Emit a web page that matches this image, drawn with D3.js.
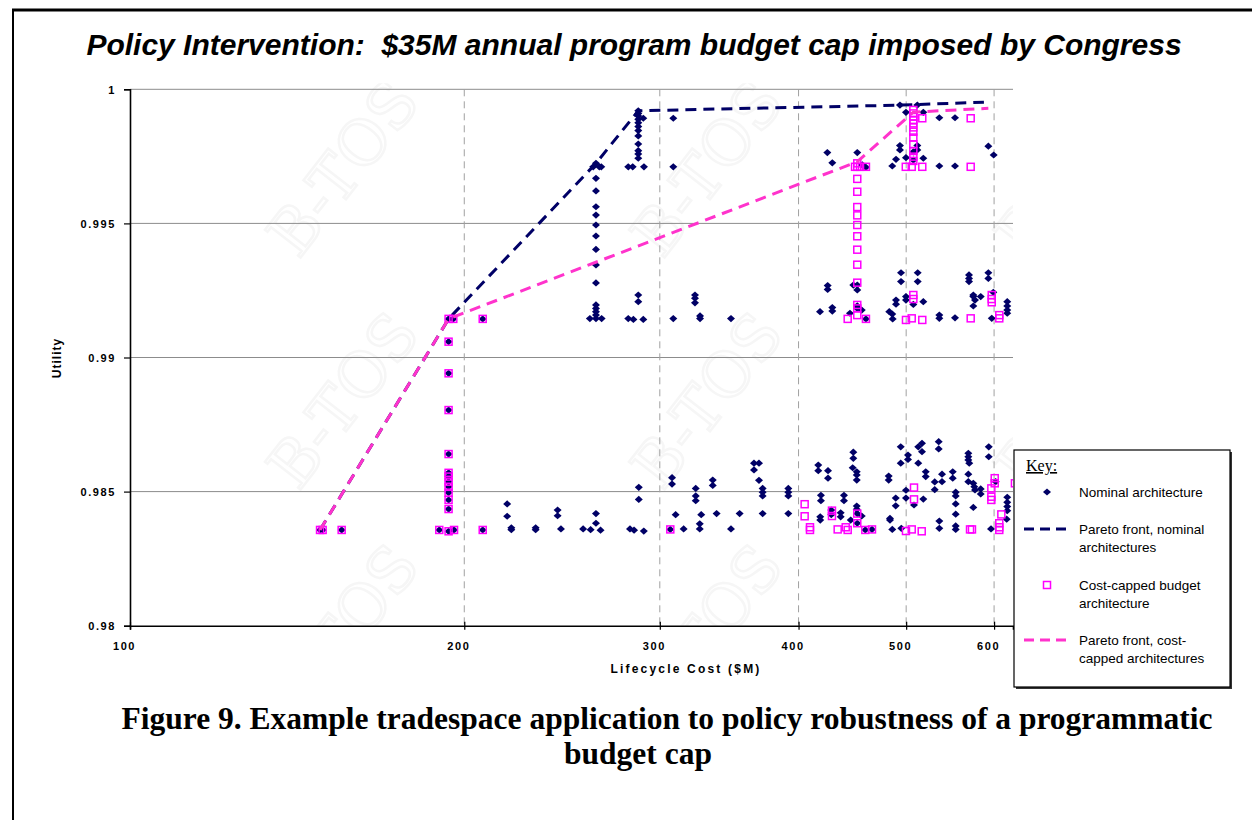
<!DOCTYPE html>
<html>
<head>
<meta charset="utf-8">
<script src="https://cdn.jsdelivr.net/npm/d3@7"></script>
<style>
  body { margin: 0; background: #fff; }
  svg { display: block; }
  text { font-family: Arial, "Liberation Sans", sans-serif; }
</style>
</head>
<body>
<svg id="chart" width="1252" height="820"></svg>
<script>
// ---- data: [lifecycle cost $M, utility] ----
var nominalArch = [
  [148.3,0.98357],[149.1,0.98357],[155.1,0.98357],[189.9,0.98357],[195.8,0.98357],[207.8,0.98357],
  [193.6,0.99144],[193.6,0.99059],[193.6,0.98941],[193.6,0.98804],[193.6,0.98640],[193.6,0.98570],
  [193.6,0.98556],[193.6,0.98537],[193.6,0.98518],[193.6,0.98496],[193.6,0.98469],[193.6,0.98435],
  [193.6,0.98352],[195.5,0.99144],[207.8,0.99144],
  [218.6,0.98454],[218.6,0.98408],[220.5,0.98365],[220.5,0.98358],[231.9,0.98365],[231.9,0.98358],
  [244.4,0.98361],[242.7,0.98431],[242.7,0.98410],[255.9,0.98361],[259.9,0.98358],[265.3,0.98356],
  [262.8,0.98418],[262.8,0.98382],[282.0,0.98361],[284.4,0.98356],[290.2,0.98353],[287.2,0.98516],
  [287.2,0.98471],[306.6,0.98359],[307.7,0.98552],[307.7,0.98528],[310.0,0.98414],[315.2,0.98361],
  [323.2,0.98512],[323.2,0.98484],[323.2,0.98466],[326.9,0.98414],[325.9,0.98380],[325.9,0.98361],
  [334.8,0.98543],[334.8,0.98523],[337.5,0.98418],[347.7,0.98361],[354.0,0.98418],[364.7,0.98606],
  [368.5,0.98606],[364.7,0.98581],[368.5,0.98542],[371.3,0.98512],[371.3,0.98498],[371.3,0.98484],
  [371.3,0.98418],[391.6,0.98512],[391.6,0.98498],[391.6,0.98484],[391.6,0.98418],
  [416.7,0.98599],[416.7,0.98578],[425.2,0.98578],[425.2,0.98550],[419.0,0.98486],[419.0,0.98466],
  [418.4,0.98406],[418.4,0.98394],[439.5,0.98486],[439.5,0.98466],[436.5,0.98421],[436.5,0.98406],
  [445.7,0.98394],[448.1,0.98647],[448.1,0.98624],[447.5,0.98589],[451.3,0.98574],[451.3,0.98562],
  [451.3,0.98543],[451.3,0.98446],[451.3,0.98434],[456.0,0.98409],[428.1,0.98431],[428.1,0.98414],
  [451.8,0.98418],[451.8,0.98382],[465.8,0.98359],[459.4,0.98357],[482.2,0.98558],[482.2,0.98543],
  [483.5,0.98400],[483.5,0.98394],[485.8,0.98359],[495.0,0.98363],[494.4,0.98667],[494.4,0.98606],
  [489.3,0.98476],[489.3,0.98447],[499.8,0.98505],[499.8,0.98476],[501.9,0.98636],[501.9,0.98620],
  [512.7,0.98667],[516.7,0.98680],[516.7,0.98649],[512.7,0.98606],[508.2,0.98450],[518.1,0.98472],
  [520.7,0.98574],[520.7,0.98556],[530.5,0.98536],[530.5,0.98507],[534.9,0.98686],[534.9,0.98659],
  [538.6,0.98565],[538.6,0.98537],[550.7,0.98574],[550.7,0.98550],[554.1,0.98498],[554.1,0.98484],
  [554.1,0.98454],[554.1,0.98416],[535.6,0.98390],[535.6,0.98363],[554.1,0.98372],[554.1,0.98359],
  [568.8,0.98643],[568.8,0.98630],[568.8,0.98618],[569.9,0.98606],[568.8,0.98565],[568.8,0.98537],
  [574.7,0.98531],[575.9,0.98518],[576.7,0.98506],[583.6,0.98510],[583.6,0.98491],[574.7,0.98441],
  [593.4,0.98667],[593.4,0.98630],[596.2,0.98361],[602.0,0.98537],[616.6,0.98479],[616.6,0.98460],
  [616.6,0.98444],[616.6,0.98429],[615.9,0.98397],
  [259.5,0.99145],[262.8,0.99145],[265.9,0.99145],[262.8,0.99196],[262.8,0.99183],[262.8,0.99171],
  [262.8,0.99158],[262.8,0.99724],[262.8,0.99668],[262.8,0.99621],[262.8,0.99562],[262.8,0.99531],
  [262.8,0.99494],[262.8,0.99453],[262.8,0.99403],[262.8,0.99345],[262.8,0.99278],
  [261.3,0.99711],[264.6,0.99711],[265.7,0.99711],[281.0,0.99145],[284.0,0.99142],[289.9,0.99142],
  [286.9,0.99233],[286.9,0.99208],[286.9,0.99920],[286.9,0.99910],[286.9,0.99900],[286.9,0.99888],
  [286.9,0.99875],[286.9,0.99861],[286.9,0.99846],[286.9,0.99826],[286.9,0.99796],[286.9,0.99771],
  [286.9,0.99759],[286.9,0.99743],[289.9,0.99892],[281.0,0.99711],[283.6,0.99711],[290.3,0.99711],
  [308.5,0.99892],[308.5,0.99711],[308.5,0.99145],[322.7,0.99233],[322.7,0.99221],[322.7,0.99204],
  [326.1,0.99155],[326.1,0.99145],[347.7,0.99145],
  [418.2,0.99171],[424.9,0.99268],[424.9,0.99254],[429.0,0.99186],[429.0,0.99173],[445.0,0.99165],
  [448.1,0.99270],[451.8,0.99270],[451.8,0.99252],[451.8,0.99193],[451.8,0.99183],[456.0,0.99177],
  [460.0,0.99144],[482.8,0.99171],[485.8,0.99162],[486.2,0.99144],[489.6,0.99214],[489.6,0.99199],
  [494.7,0.99316],[494.7,0.99283],[499.8,0.99227],[499.8,0.99214],[507.5,0.99198],[512.1,0.99316],
  [512.1,0.99283],[518.1,0.99208],[535.6,0.99158],[535.6,0.99146],[553.3,0.99148],[569.6,0.99308],
  [569.6,0.99295],[569.6,0.99283],[574.7,0.99233],[574.7,0.99227],[576.7,0.99214],[583.6,0.99227],
  [574.7,0.99192],[592.9,0.99316],[592.9,0.99295],[597.1,0.99146],[599.0,0.99243],[616.6,0.99208],
  [616.6,0.99192],[616.6,0.99177],[616.6,0.99165],
  [424.6,0.99764],[429.0,0.99726],[451.8,0.99764],[456.5,0.99718],[460.0,0.99709],[485.8,0.99714],
  [489.6,0.99739],[493.6,0.99790],[493.6,0.99774],[499.8,0.99745],[511.7,0.99790],[511.7,0.99774],
  [518.1,0.99743],[535.6,0.99714],[553.3,0.99714],[535.6,0.99894],[553.3,0.99894],[592.9,0.99788],
  [599.5,0.99755],[493.6,0.99941],[499.8,0.99914],[511.7,0.99941],[518.1,0.99914],[507.5,0.99767],
  [507.5,0.99736]
];

var cappedArch = [
  [148.3,0.98357],[149.1,0.98357],[155.1,0.98357],[189.9,0.98357],[193.6,0.98352],[195.8,0.98357],
  [207.8,0.98357],[193.6,0.99144],[193.6,0.99059],[193.6,0.98941],[193.6,0.98804],[193.6,0.98640],
  [193.6,0.98570],[193.6,0.98556],[193.6,0.98537],[193.6,0.98518],[193.6,0.98496],[193.6,0.98469],
  [193.6,0.98435],[195.5,0.99144],[207.8,0.99144],[306.6,0.98359],
  [405.1,0.98453],[405.1,0.98408],[409.6,0.98367],[409.6,0.98357],[428.7,0.98429],[428.7,0.98409],
  [433.8,0.98359],[441.1,0.98367],[442.9,0.98357],[451.8,0.98418],[451.8,0.98382],[459.4,0.98357],
  [465.8,0.98359],[508.2,0.98515],[508.2,0.98471],[499.8,0.98353],[505.8,0.98359],[516.4,0.98352],
  [570.8,0.98359],[573.1,0.98359],[600.8,0.98550],[600.8,0.98531],[596.6,0.98512],[596.6,0.98481],
  [596.6,0.98469],[609.1,0.98415],[606.5,0.98382],[606.5,0.98367],[606.5,0.98357],[626.5,0.98531],
  [442.9,0.99144],[460.0,0.99144],
  [451.8,0.99724],[451.8,0.99711],[451.8,0.99666],[451.8,0.99618],[451.8,0.99561],[451.8,0.99530],
  [451.8,0.99494],[451.8,0.99452],[451.8,0.99402],[451.8,0.99346],[451.8,0.99279],[451.8,0.99196],
  [451.8,0.99183],[451.8,0.99158],[449.7,0.99711],[454.4,0.99711],[460.0,0.99711],
  [507.5,0.99923],[507.5,0.99910],[507.5,0.99898],[507.5,0.99886],[507.5,0.99873],[507.5,0.99858],
  [507.5,0.99842],[507.5,0.99820],[507.5,0.99795],[507.5,0.99770],[507.5,0.99749],[507.5,0.99733],
  [499.6,0.99711],[505.8,0.99711],[517.0,0.99711],[517.0,0.99892],[571.6,0.99892],[571.6,0.99711],
  [507.5,0.99233],[507.5,0.99218],[499.8,0.99140],[505.8,0.99146],[517.0,0.99140],[571.6,0.99146],
  [597.1,0.99233],[597.1,0.99218],[597.1,0.99206],[606.5,0.99158],[606.5,0.99146]
];

var paretoNominal = [[148.3,0.98357],[193.6,0.99144],[262.8,0.99724],[286.9,0.99920],[493.6,0.99941],[587.5,0.99952]];
var paretoCapped  = [[148.3,0.98357],[193.6,0.99144],[451.8,0.99730],[507.5,0.99915],[592.9,0.99929]];

var xTicks = [100, 200, 300, 400, 500, 600];
var yTicks = [0.98, 0.985, 0.99, 0.995, 1];
var yTickLabels = ["0.98", "0.985", "0.99", "0.995", "1"];

var legendItems = [
  {kind: "diamond", lines: ["Nominal architecture"]},
  {kind: "navyline", lines: ["Pareto front, nominal", "architectures"]},
  {kind: "square", lines: ["Cost-capped budget", "architecture"]},
  {kind: "pinkline", lines: ["Pareto front, cost-", "capped architectures"]}
];

var navy = "#000066", magenta = "#ff00ff", pink = "#ff33cc";

// ---- layout ----
var plot = {left: 130, right: 1013, top: 89.3, bottom: 625.7};
var svg = d3.select("#chart");

var x = d3.scaleLog().domain([100, 624]).range([plot.left, plot.right]);
var y = d3.scaleLinear().domain([0.98, 1]).range([plot.bottom, plot.top]);

// frame of the figure (top and left edges visible)
svg.append("line").attr("x1", 12).attr("x2", 1252).attr("y1", 10).attr("y2", 10)
  .attr("stroke", "#000").attr("stroke-width", 3);
svg.append("line").attr("x1", 13).attr("x2", 13).attr("y1", 9).attr("y2", 820)
  .attr("stroke", "#000").attr("stroke-width", 2);

svg.append("text")
  .attr("x", 634).attr("y", 55)
  .attr("text-anchor", "middle")
  .style("white-space", "pre")
  .style("font-size", "30px").style("font-weight", "bold").style("font-style", "italic")
  .text("Policy Intervention:  $35M annual program budget cap imposed by Congress");

var defs = svg.append("defs");
defs.append("clipPath").attr("id", "plotclip")
  .append("rect")
  .attr("x", plot.left).attr("y", plot.top - 6)
  .attr("width", plot.right - plot.left).attr("height", plot.bottom - plot.top + 6);

// faint watermark
var gWm = svg.append("g").attr("clip-path", "url(#plotclip)");
[343, 707, 1071].forEach(function(cx) {
  [168, 400, 632].forEach(function(cy) {
    gWm.append("text")
      .attr("transform", "translate(" + cx + "," + cy + ") rotate(-52)")
      .attr("text-anchor", "middle").attr("dy", "0.35em")
      .style("font-size", "62px").style("font-family", "'DejaVu Serif', serif")
      .attr("fill", "none").attr("stroke", "#f6f6f6").attr("stroke-width", 2.5)
      .text("B-TOS");
  });
});

// gridlines
svg.append("g").selectAll("line").data(yTicks.slice(1)).enter().append("line")
  .attr("x1", plot.left).attr("x2", plot.right)
  .attr("y1", function(d) { return y(d); }).attr("y2", function(d) { return y(d); })
  .attr("stroke", "#8c8c8c").attr("stroke-width", 1);
svg.append("g").selectAll("line").data(xTicks.slice(1)).enter().append("line")
  .attr("x1", function(d) { return x(d); }).attr("x2", function(d) { return x(d); })
  .attr("y1", plot.top).attr("y2", plot.bottom)
  .attr("stroke", "#a0a0a0").attr("stroke-width", 1).attr("stroke-dasharray", "7,5");

var diamond = "M0,-3.6L4,0L0,3.6L-4,0Z";
var gData = svg.append("g").attr("clip-path", "url(#plotclip)");
var line = d3.line().x(function(d) { return x(d[0]); }).y(function(d) { return y(d[1]); });

gData.append("g").selectAll("path").data(nominalArch).enter().append("path")
  .attr("d", diamond).attr("fill", navy)
  .attr("transform", function(d) { return "translate(" + x(d[0]) + "," + y(d[1]) + ")"; });

gData.append("path").datum(paretoNominal)
  .attr("d", line).attr("fill", "none").attr("stroke", navy)
  .attr("stroke-width", 3).attr("stroke-dasharray", "11,7");

gData.append("g").selectAll("rect").data(cappedArch).enter().append("rect")
  .attr("x", function(d) { return x(d[0]) - 3.5; }).attr("y", function(d) { return y(d[1]) - 3.5; })
  .attr("width", 7).attr("height", 7)
  .attr("fill", "none").attr("stroke", magenta).attr("stroke-width", 1.5);

gData.append("path").datum(paretoCapped)
  .attr("d", line).attr("fill", "none").attr("stroke", pink)
  .attr("stroke-width", 3).attr("stroke-dasharray", "11,7");

// axes
var yAxis = svg.append("g").attr("transform", "translate(" + plot.left + ",0)")
  .call(d3.axisLeft(y).tickValues(yTicks).tickSize(6)
    .tickFormat(function(d, i) { return yTickLabels[i]; }));
var xAxis = svg.append("g").attr("transform", "translate(0," + plot.bottom + ")")
  .call(d3.axisBottom(x).tickValues(xTicks).tickSize(4).tickFormat(d3.format("d")));

[yAxis, xAxis].forEach(function(ax) {
  ax.select(".domain").attr("stroke", "#000").attr("stroke-width", 1.6);
  ax.selectAll(".tick line").attr("stroke", "#000").attr("stroke-width", 1.2);
  ax.selectAll("text").attr("fill", "#000")
    .style("font-size", "11px").style("font-weight", "bold")
    .style("letter-spacing", "1.6px").style("font-family", "Arial, sans-serif");
});
yAxis.selectAll(".tick text").attr("x", -14).attr("dy", "0.36em");
xAxis.selectAll(".tick line").attr("y1", -4).attr("y2", 4);
xAxis.selectAll(".tick text").attr("y", 17).attr("dx", -6);

svg.append("text")
  .attr("x", 686).attr("y", 673).attr("text-anchor", "middle")
  .style("font-size", "12px").style("font-weight", "bold").style("letter-spacing", "2.2px")
  .text("Lifecycle Cost ($M)");
svg.append("text")
  .attr("transform", "translate(61,358) rotate(-90)").attr("text-anchor", "middle")
  .style("font-size", "12px").style("font-weight", "bold").style("letter-spacing", "1px")
  .text("Utility");

// legend
var lg = svg.append("g").attr("transform", "translate(1014,450)");
lg.append("rect").attr("x", 2).attr("y", 2).attr("width", 216).attr("height", 237).attr("fill", "#333");
lg.append("rect").attr("width", 216).attr("height", 237)
  .attr("fill", "#fff").attr("stroke", "#000").attr("stroke-width", 1.2);
lg.append("text").attr("x", 12).attr("y", 21)
  .style("font-family", "'Liberation Serif', 'Times New Roman', serif").style("font-size", "16px")
  .style("text-decoration", "underline").text("Key:");

var rowY = [42, 79, 135, 190];
legendItems.forEach(function(item, i) {
  var g = lg.append("g").attr("transform", "translate(0," + rowY[i] + ")");
  if (item.kind === "diamond") {
    g.append("path").attr("d", diamond).attr("fill", navy).attr("transform", "translate(33,0)");
  } else if (item.kind === "square") {
    g.append("rect").attr("x", 29.5).attr("y", -3.5).attr("width", 7).attr("height", 7)
      .attr("fill", "none").attr("stroke", magenta).attr("stroke-width", 1.5);
  } else {
    g.append("line").attr("x1", 10).attr("x2", 56).attr("y1", 0).attr("y2", 0)
      .attr("stroke", item.kind === "navyline" ? navy : pink)
      .attr("stroke-width", 3).attr("stroke-dasharray", "10,6");
  }
  item.lines.forEach(function(t, j) {
    g.append("text").attr("x", 65).attr("y", j * 18.5).attr("dy", "0.35em")
      .style("font-size", "13.5px").text(t);
  });
});

// caption
var caption = [
  {t: "Figure 9. Example tradespace application to policy robustness of a programmatic", cx: 667, y: 729},
  {t: "budget cap", cx: 638, y: 764}
];
svg.append("g").selectAll("text").data(caption).enter().append("text")
  .attr("x", function(d) { return d.cx; }).attr("y", function(d) { return d.y; })
  .attr("text-anchor", "middle")
  .style("font-family", "'Liberation Serif', 'Times New Roman', serif")
  .style("font-size", "31.5px").style("font-weight", "bold")
  .text(function(d) { return d.t; });
</script>
</body>
</html>
